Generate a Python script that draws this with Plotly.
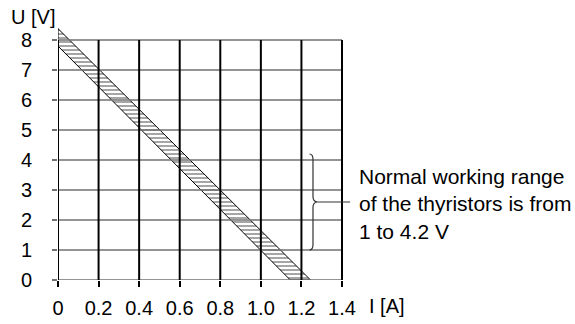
import plotly.graph_objects as go

# Current axis (A) and voltage axis (V) tick values
i_ticks = [0, 0.2, 0.4, 0.6, 0.8, 1.0, 1.2, 1.4]
i_labels = ["0", "0.2", "0.4", "0.6", "0.8", "1.0", "1.2", "1.4"]
u_ticks = [0, 1, 2, 3, 4, 5, 6, 7, 8]
u_labels = ["0", "1", "2", "3", "4", "5", "6", "7", "8"]

# Boundaries of the U-I characteristic band: voltage at I=0 and current at U=0
band_upper = {"u0": 8.38, "i0": 1.245}
band_lower = {"u0": 7.8, "i0": 1.145}

# Normal working range of the thyristors [V]
work_range = [1.0, 4.2]

FONT = "Liberation Sans, Arial, sans-serif"
W, H = 575, 324
L, R, T, B = 58, 5, 28, 38
i_max = i_ticks[-1]
u_top = 8.4
plot_w = W - L - R
x_max = i_max * plot_w / 284.0

fig = go.Figure()

# Hatched band
band_x = [0, band_upper["i0"], band_lower["i0"], 0, 0]
band_y = [band_upper["u0"], 0, 0, band_lower["u0"], band_upper["u0"]]
fig.add_trace(go.Scatter(
    x=band_x, y=band_y, mode="lines", fill="toself",
    fillcolor="rgba(255,255,255,0)",
    fillpattern=dict(shape="-", size=4, solidity=0.35,
                     fgcolor="black", bgcolor="rgba(255,255,255,0)"),
    line=dict(color="black", width=1), hoverinfo="skip", showlegend=False))

# Horizontal grid lines (gray)
hx, hy = [], []
for u in u_ticks:
    hx += [0, i_max, None]
    hy += [u, u, None]
fig.add_trace(go.Scatter(x=hx, y=hy, mode="lines",
                         line=dict(color="#707070", width=1.5),
                         hoverinfo="skip", showlegend=False))

# Vertical grid lines (black)
vx, vy = [], []
for i in i_ticks:
    vx += [i, i, None]
    vy += [0, u_ticks[-1], None]
fig.add_trace(go.Scatter(x=vx, y=vy, mode="lines",
                         line=dict(color="black", width=2),
                         hoverinfo="skip", showlegend=False))

# Curly brace marking the working range, with a leader line
lo, hi = work_range
mid = (lo + hi) / 2
xe, xs, xt = 1.24, 1.257, 1.28
r = 0.18
brace = (f"M {xe},{hi} Q {xs},{hi} {xs},{hi - r} "
         f"L {xs},{mid + r} Q {xs},{mid} {xt},{mid} "
         f"Q {xs},{mid} {xs},{mid - r} "
         f"L {xs},{lo + r} Q {xs},{lo} {xe},{lo}")
fig.add_shape(type="path", path=brace, xref="x", yref="y",
              line=dict(color="#333333", width=1.2))
fig.add_shape(type="line", xref="x", yref="y", x0=xt, x1=1.44, y0=mid, y1=mid,
              line=dict(color="#333333", width=1.2))

fig.add_annotation(x=1.474, y=mid - 0.08, xref="x", yref="y",
                   xanchor="left", yanchor="middle", align="left",
                   showarrow=False,
                   text="Normal working range<br>of the thyristors is from<br>1 to 4.2 V",
                   font=dict(family=FONT, size=21, color="black"))

# Axis titles
fig.add_annotation(x=(9 - L) / plot_w, y=1, xref="paper", yref="paper",
                   xanchor="left", yanchor="bottom", yshift=-2, showarrow=False,
                   text="U [V]", font=dict(family=FONT, size=20, color="black"))
fig.add_annotation(x=1.525, y=0, xref="x", yref="paper",
                   xanchor="left", yanchor="top", yshift=-13, showarrow=False,
                   text="I [A]", font=dict(family=FONT, size=20, color="black"))

fig.update_xaxes(range=[0, x_max], tickvals=i_ticks, ticktext=i_labels,
                 showgrid=False, zeroline=False, showline=False,
                 ticks="outside", ticklen=6, tickwidth=2, tickcolor="black",
                 tickfont=dict(family=FONT, size=20, color="black"),
                 ticklabelstandoff=4, fixedrange=True)
fig.update_yaxes(range=[0, u_top], tickvals=u_ticks, ticktext=u_labels,
                 showgrid=False, zeroline=False, showline=False,
                 ticks="outside", ticklen=5, tickwidth=1.5, tickcolor="#707070",
                 tickfont=dict(family=FONT, size=20, color="black"),
                 ticklabelstandoff=16, fixedrange=True)

fig.update_layout(width=W, height=H, margin=dict(l=L, r=R, t=T, b=B),
                  plot_bgcolor="white", paper_bgcolor="white",
                  showlegend=False)

fig.write_html("out.html")
